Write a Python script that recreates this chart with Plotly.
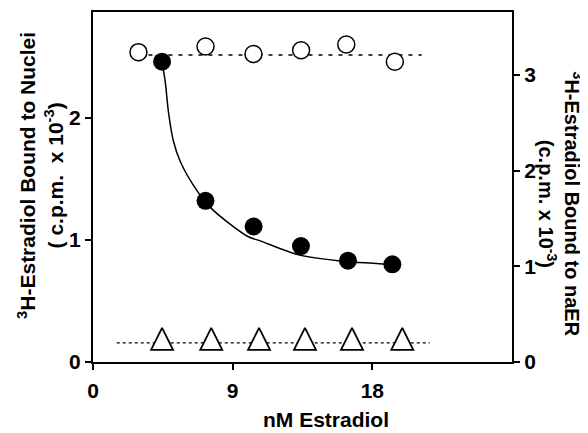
import plotly.graph_objects as go

# ---- Data ----
# filled circles: 3H-estradiol bound to nuclei (left axis)
x_filled = [4.45, 7.25, 10.35, 13.40, 16.43, 19.29]
y_filled = [2.46, 1.32, 1.11, 0.95, 0.83, 0.80]

# fitted curve through the filled circles (left axis)
curve_x = [4.45, 4.66, 4.86, 5.18, 5.63, 6.72, 7.69, 9.95, 10.82, 13.18, 15.78, 19.29]
curve_y = [2.46, 2.29, 2.05, 1.81, 1.64, 1.40, 1.25, 1.03, 0.99, 0.88, 0.83, 0.80]

# open circles: 3H-estradiol bound to naER (right axis)
x_open = [2.93, 7.25, 10.34, 13.41, 16.32, 19.45]
y_open = [3.24, 3.30, 3.22, 3.26, 3.32, 3.14]
open_line_x = [2.93, 21.18]
open_line_y = [3.21, 3.21]

# open triangles (left axis), value at the triangle apex
x_tri = [4.45, 7.62, 10.70, 13.66, 16.69, 19.93]
y_tri = [0.28, 0.28, 0.28, 0.28, 0.28, 0.28]
tri_line_x = [1.53, 21.70]
tri_line_y = [0.157, 0.157]

x_ticks = [0, 9, 18]
y_left_ticks = [0, 1, 2]
y_right_ticks = [0, 1, 2, 3]

FONT = "Liberation Sans"
FS = 21
TICKFONT = dict(family=FONT, size=FS, color="black", weight="bold")

fig = go.Figure()

fig.add_trace(go.Scatter(x=tri_line_x, y=tri_line_y, mode="lines",
                         line=dict(color="black", width=1.2, dash="dot"),
                         yaxis="y", showlegend=False))
fig.add_trace(go.Scatter(x=open_line_x, y=open_line_y, mode="lines",
                         line=dict(color="black", width=1.5, dash="4px,6px"),
                         yaxis="y2", showlegend=False))
fig.add_trace(go.Scatter(x=curve_x, y=curve_y, mode="lines",
                         line=dict(color="black", width=1.5, shape="spline", smoothing=0.8),
                         yaxis="y", showlegend=False))
fig.add_trace(go.Scatter(x=x_tri, y=y_tri, mode="markers",
                         marker=dict(symbol="arrow-up", size=22, color="white",
                                     line=dict(color="black", width=1.8)),
                         yaxis="y", showlegend=False))
fig.add_trace(go.Scatter(x=x_open, y=y_open, mode="markers",
                         marker=dict(symbol="circle", size=17, color="white",
                                     line=dict(color="black", width=1.5)),
                         yaxis="y2", showlegend=False))
fig.add_trace(go.Scatter(x=x_filled, y=y_filled, mode="markers",
                         marker=dict(symbol="circle", size=18, color="black"),
                         yaxis="y", showlegend=False))

axis_common = dict(showline=True, linecolor="black", linewidth=2,
                   ticks="outside", ticklen=6, tickwidth=1.5, tickcolor="black",
                   showgrid=False, zeroline=False, tickfont=TICKFONT)

# The page body has an 8px default margin, so the figure is 8px smaller
# than the window and the margins are reduced on the left/top.
fig.update_layout(
    width=580, height=425,
    margin=dict(l=85, r=76, t=2, b=71),
    paper_bgcolor="white", plot_bgcolor="white",
    font=dict(family=FONT, color="black"),
    xaxis=dict(range=[0, 27], tickvals=x_ticks, mirror=True, ticklabelstandoff=3,
               **axis_common),
    yaxis=dict(range=[0, 2.867], tickvals=y_left_ticks, **axis_common),
    yaxis2=dict(range=[0, 3.66], tickvals=y_right_ticks, overlaying="y",
                side="right", **axis_common),
)

fig.add_annotation(text="<b>nM Estradiol</b>", xref="paper", yref="paper",
                   x=0.555, y=-0.163, showarrow=False, xanchor="center", yanchor="middle",
                   font=dict(family=FONT, size=FS, color="black"))
fig.add_annotation(text="<b><sup>3</sup>H-Estradiol Bound to Nuclei<br>( c.p.m.  x 10<sup>-3</sup>)</b>",
                   xref="paper", yref="paper", x=-0.127, y=0.534, textangle=-90,
                   showarrow=False, xanchor="center", yanchor="middle",
                   font=dict(family=FONT, size=FS, color="black"))
fig.add_annotation(text="<b><sup>3</sup>H-Estradiol Bound to naER<br>(c.p.m. x 10<sup>-3</sup>)</b>",
                   xref="paper", yref="paper", x=1.115, y=0.452, textangle=90,
                   showarrow=False, xanchor="center", yanchor="middle",
                   font=dict(family=FONT, size=20, color="black"))

fig.write_html("out.html")
